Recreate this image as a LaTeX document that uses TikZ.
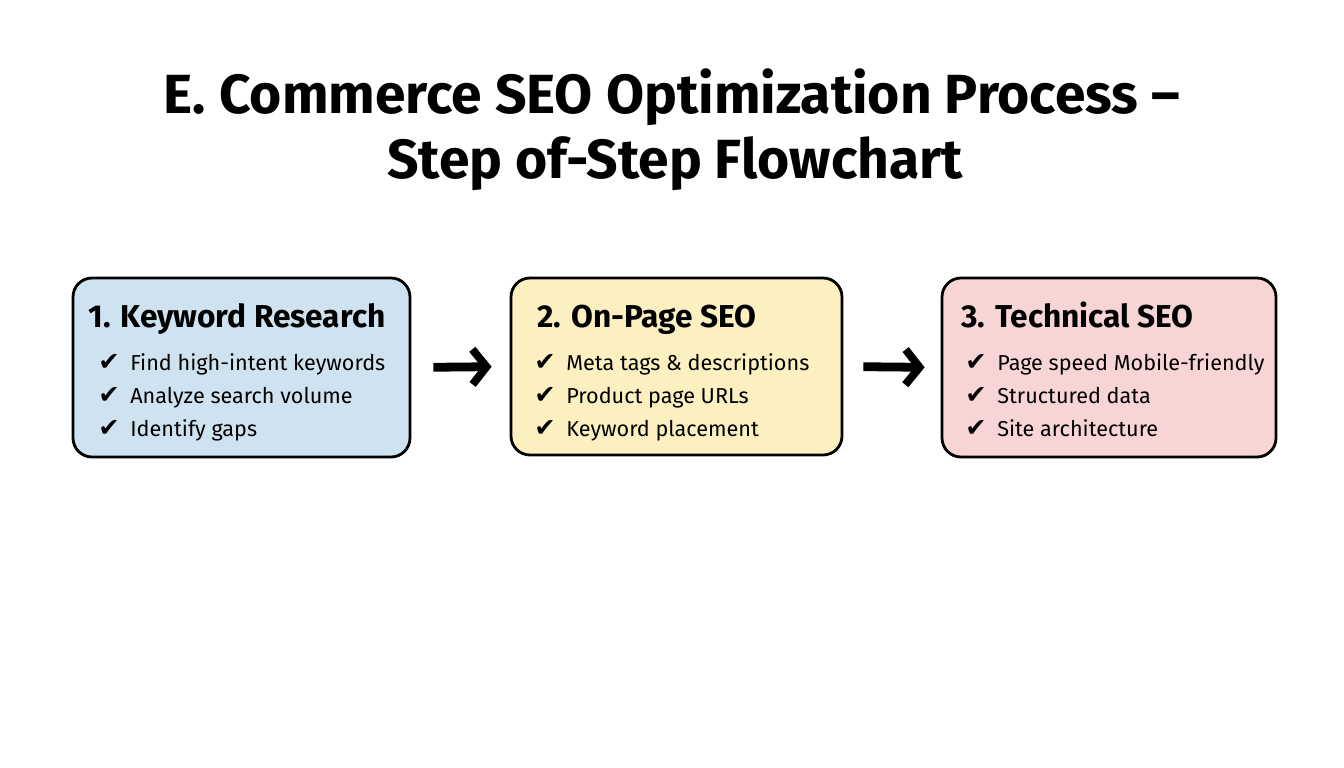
\documentclass[tikz,border=0pt]{standalone}
\usepackage{fontspec}
\setmainfont{Fira Sans}
\newfontfamily\checkfont{DejaVu Sans}
\usetikzlibrary{arrows.meta}

\definecolor{kwblue}{HTML}{CFE2F0}
\definecolor{opyellow}{HTML}{FCEFC0}
\definecolor{techpink}{HTML}{F7D5D4}

\begin{document}
\begin{tikzpicture}[draw=black]
\tikzstyle{stepbox}=[rectangle, rounded corners=0.38cm, draw=black, line width=1.6pt, inner sep=0pt]
\tikzstyle{heading}=[anchor=base west, inner sep=0pt, font=\fontsize{18}{20}\selectfont\bfseries]
\tikzstyle{item}=[anchor=base west, inner sep=0pt, font=\fontsize{12.3}{14}\selectfont]
\tikzstyle{tick}=[anchor=base west, inner sep=0pt, font=\fontsize{14.5}{16}\selectfont\checkfont]
\tikzstyle{kline}=[line width=5pt, -{Straight Barb[length=8pt, width=20pt, line width=4.5pt]}]

\useasboundingbox (0, 0) rectangle (26.88, -15.36);

% Draw the title
\node[anchor=base, inner sep=0pt, font=\fontsize{31.4}{34}\selectfont\bfseries] (title1) at (13.44, -2.26) {E. Commerce SEO Optimization Process --};
\node[anchor=base, inner sep=0pt, font=\fontsize{31.4}{34}\selectfont\bfseries] (title2) at (13.5, -3.56) {Step of-Step Flowchart};

% Draw the three step boxes
\node[stepbox, fill=kwblue, minimum width=6.74cm, minimum height=3.58cm] (kw) at (4.83, -7.35) {};
\node[stepbox, fill=opyellow, minimum width=6.62cm, minimum height=3.54cm] (op) at (13.53, -7.33) {};
\node[stepbox, fill=techpink, minimum width=6.68cm, minimum height=3.58cm] (tech) at (22.18, -7.35) {};

% Headings
\node[heading] (kwhead) at (1.76, -6.54) {1. Keyword Research};
\node[heading] (ophead) at (10.74, -6.54) {2. On-Page SEO};
\node[heading] (techhead) at (19.22, -6.54) {3. Technical SEO};

% Check lists
\foreach \y/\txt in {1/Find high-intent keywords, 2/Analyze search volume, 3/Identify gaps} {
    \node[tick] (kwtick\y) at (1.96, -7.4 - \y * 0.66 + 0.66) {✔};
    \node[item] (kwitem\y) at (2.6, -7.4 - \y * 0.66 + 0.66) {\txt};
};
\foreach \y/\txt in {1/Meta tags \& descriptions, 2/Product page URLs, 3/Keyword placement} {
    \node[tick] (optick\y) at (10.68, -7.4 - \y * 0.66 + 0.66) {✔};
    \node[item] (opitem\y) at (11.32, -7.4 - \y * 0.66 + 0.66) {\txt};
};
\foreach \y/\txt in {1/Page speed Mobile-friendly, 2/Structured data, 3/Site architecture} {
    \node[tick] (techtick\y) at (19.3, -7.4 - \y * 0.66 + 0.66) {✔};
    \node[item] (techitem\y) at (19.94, -7.4 - \y * 0.66 + 0.66) {\txt};
};

% Arrows between steps
\draw [kline, shorten <=0.44cm, shorten >=0.36cm] (kw.east) -- (op.west);
\draw [kline, shorten <=0.4cm, shorten >=0.32cm] (op.east) -- (tech.west);

\end{tikzpicture}
\end{document}
